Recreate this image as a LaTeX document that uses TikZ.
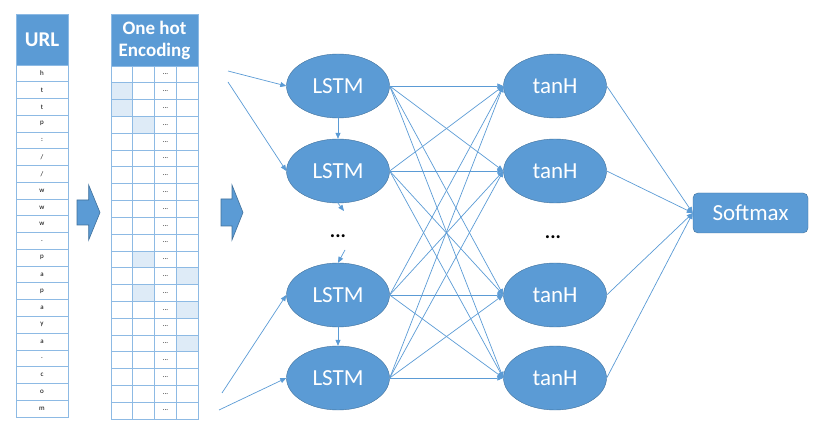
\documentclass[tikz,border=0pt]{standalone}
\usepackage{fontspec}
\setmainfont{Carlito}
\usetikzlibrary{arrows.meta, shapes.geometric}
\definecolor{xBlue}{RGB}{91,155,213}
\definecolor{xEdge}{RGB}{65,113,156}
\definecolor{xGrid}{RGB}{141,186,228}
\definecolor{xShade}{RGB}{222,235,247}
\tikzset{
  hdr/.style={fill=xBlue, draw=xGrid, text=white, align=center, inner sep=0pt, font=\bfseries},
  ucell/.style={draw=xGrid, line width=0.8pt, minimum width=52pt, minimum height=16.76pt, inner sep=0pt,
                font=\fontsize{7}{8}\selectfont},
  ocell/.style={draw=xGrid, line width=0.8pt, minimum width=21.75pt, minimum height=16.81pt, inner sep=0pt,
                font=\fontsize{7}{8}\selectfont},
  unit/.style={ellipse, fill=xBlue, draw=xEdge, text=white, minimum width=103pt, minimum height=64pt,
               inner sep=0pt, font=\fontsize{23}{26}\selectfont},
  outbox/.style={rectangle, rounded corners=5pt, fill=xBlue, draw=xEdge, text=white, minimum width=115pt,
                 minimum height=40pt, inner sep=0pt, font=\fontsize{23}{26}\selectfont},
  etc/.style={font=\fontsize{20}{20}\selectfont\bfseries, inner sep=0pt},
  link/.style={-{Triangle[length=6pt, width=5pt]}, xBlue, line width=0.7pt},
  fat/.style={fill=xBlue, draw=xEdge, line width=0.6pt},
}

\begin{document}
\begin{tikzpicture}[x=1pt, y=-1pt]
    \useasboundingbox (0,0) rectangle (819,438);
    \node[hdr, minimum width=52pt, minimum height=51pt, font=\fontsize{21}{22}\selectfont\bfseries]
      (url) at (42,39.5) {URL};
    \foreach \ch [count=\i] in {h,t,t,p,:,/,/,w,w,w,.,p,a,p,a,y,a,.,c,o,m}
      \node[ucell] (u\i) at (42,{65+16.76*(\i-0.5)}) {\ch};
    \node[hdr, minimum width=87pt, minimum height=52pt, font=\fontsize{19}{22}\selectfont\bfseries]
      (hot) at (154.5,40) {One hot\\Encoding};
    \foreach \r/\c in {2/1,3/1,4/2,12/2,13/4,14/2,15/4,17/4}
      \fill[xShade] ({111+21.75*(\c-1)},{66+16.81*(\r-1)}) rectangle +(21.75,16.81);
    \foreach \r in {1,...,21} {
      \node[ocell] (o\r-1) at (121.9,{66+16.81*(\r-0.5)}) {};
      \node[ocell] (o\r-2) at (143.6,{66+16.81*(\r-0.5)}) {};
      \node[ocell] (o\r-3) at (165.4,{66+16.81*(\r-0.5)}) {...};
      \node[ocell] (o\r-4) at (187.1,{66+16.81*(\r-0.5)}) {};
    }

    \draw[fat] (77,200) -- (88.7,200) -- (88.7,185) -- (100,212.5) -- (88.7,240) -- (88.7,225) -- (77,225) -- cycle;
    \draw[fat] (221,199) -- (232,199) -- (232,185) -- (243,212.5) -- (232,240) -- (232,226) -- (221,226) -- cycle;

    \node[unit] (l1) at (338,86)  {LSTM};
    \node[unit] (l2) at (338,171) {LSTM};
    \node[etc]  (ld) at (338,236) {...};
    \node[unit] (l3) at (338,295) {LSTM};
    \node[unit] (l4) at (338,378) {LSTM};
    \node[unit] (t1) at (555,86)  {tanH};
    \node[unit] (t2) at (555,171) {tanH};
    \node[etc]  (td) at (553,237) {...};
    \node[unit] (t3) at (555,295) {tanH};
    \node[unit] (t4) at (555,378) {tanH};
    \node[outbox] (sm) at (750.5,213) {Softmax};

    \coordinate (in1) at (228,71);
    \coordinate (in2) at (228,82);
    \coordinate (in3) at (222,393);
    \coordinate (in4) at (219,410);
    \coordinate (d1) at (344,211);
    \coordinate (d2) at (345,250);
    \draw[link] (in1) -- (l1.west);
    \draw[link] (in2) -- (l2.west);
    \draw[link] (in3) -- (l3.west);
    \draw[link] (in4) -- (l4.west);
    \draw[link] (l1) -- (l2);
    \draw[link] (l2.south) -- (d1);
    \draw[link] (d2) -- (l3.north);
    \draw[link] (l3) -- (l4);
    \foreach \a in {1,...,4}
      \foreach \b in {1,...,4}
        \draw[link] (l\a.east) -- (t\b.west);
    \foreach \b in {1,...,4}
      \draw[link] (t\b.east) -- (sm.west);
  \end{tikzpicture}
\end{document}
